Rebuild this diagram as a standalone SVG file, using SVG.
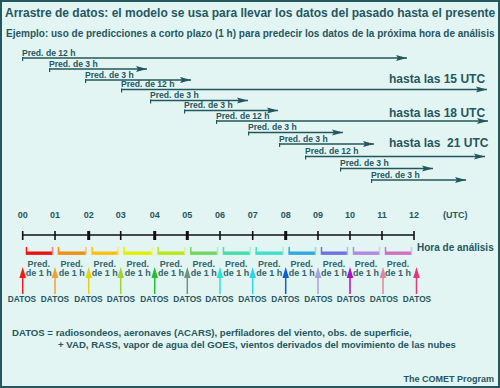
<svg xmlns="http://www.w3.org/2000/svg" width="500" height="388" viewBox="0 0 500 388">
<defs>
<style>
text{font-family:"Liberation Sans",Arial,sans-serif;font-weight:bold;fill:#26575f}
.t{font-size:12px}
.s{font-size:10px}
.lg{font-size:9.6px}
.p{font-size:8.6px}
.h{font-size:12px}
.hr{font-size:9px;text-anchor:middle}
.pm{font-size:9px;text-anchor:middle;fill:#34656b}
.d{font-size:8.3px;text-anchor:middle}
.pl{stroke:#22575d;stroke-width:1.5;fill:none;marker-end:url(#ah)}
.tk{stroke:#22575d;stroke-width:1.2}
.tl{stroke:#111;stroke-width:1.6}
.up{stroke-width:1.5}
</style>
<marker id="ah" markerUnits="userSpaceOnUse" markerWidth="12" markerHeight="8" viewBox="0 0 12 8" refX="11" refY="4" orient="auto">
<path d="M0,1 L11,4 L0,7 L2,4 Z" fill="#22575d"/>
</marker>
</defs>
<rect x="0" y="0" width="500" height="388" fill="#24575e"/>
<rect x="2" y="2" width="496" height="384" fill="#e2f5f3"/>
<text class="t" x="5" y="17">Arrastre de datos: el modelo se usa para llevar los datos del pasado hasta el presente</text>
<text class="s" x="6" y="37">Ejemplo: uso de predicciones a corto plazo (1 h) para predecir los datos de la próxima hora de análisis</text>

<g id="connectors">
<path class="pl" d="M22,58 H407"/><path class="tk" d="M22.6,57 V61"/>
<path class="pl" d="M49,69 H147"/><path class="tk" d="M49.6,68 V72"/>
<path class="pl" d="M85,80 H191"/><path class="tk" d="M85.6,79 V83"/>
<path class="pl" d="M121,89.5 H487"/><path class="tk" d="M121.6,88.5 V92.5"/>
<path class="pl" d="M150,100.5 H248"/><path class="tk" d="M150.6,99.5 V103.5"/>
<path class="pl" d="M184,110.5 H278"/><path class="tk" d="M184.6,109.5 V113.5"/>
<path class="pl" d="M216,121 H488"/><path class="tk" d="M216.6,120 V124"/>
<path class="pl" d="M248,132.5 H343"/><path class="tk" d="M248.6,131.5 V135.5"/>
<path class="pl" d="M279,144 H374"/><path class="tk" d="M279.6,143 V147"/>
<path class="pl" d="M305,156.5 H485"/><path class="tk" d="M305.6,155.5 V159.5"/>
<path class="pl" d="M340,168.5 H433"/><path class="tk" d="M340.6,167.5 V171.5"/>
<path class="pl" d="M371,180 H466"/><path class="tk" d="M371.6,179 V183"/>
</g>

<g id="pred-labels">
<text class="p" x="22" y="55.5">Pred. de 12 h</text>
<text class="p" x="49" y="66.5">Pred. de 3 h</text>
<text class="p" x="85" y="77.5">Pred. de 3 h</text>
<text class="p" x="121" y="87">Pred. de 12 h</text>
<text class="p" x="150" y="98">Pred. de 3 h</text>
<text class="p" x="184" y="108">Pred. de 3 h</text>
<text class="p" x="216" y="118.5">Pred. de 12 h</text>
<text class="p" x="248" y="130">Pred. de 3 h</text>
<text class="p" x="279" y="141.5">Pred. de 3 h</text>
<text class="p" x="305" y="154">Pred. de 12 h</text>
<text class="p" x="340" y="166">Pred. de 3 h</text>
<text class="p" x="371" y="177.5">Pred. de 3 h</text>
</g>
<g id="hasta">
<text class="h" x="389" y="83">hasta las 15 UTC</text>
<text class="h" x="389" y="117">hasta las 18 UTC</text>
<text class="h" x="389" y="147" xml:space="preserve">hasta las  21 UTC</text>
</g>

<g id="hours">
<text class="hr" x="22.7" y="218">00</text>
<text class="hr" x="55" y="218">01</text>
<text class="hr" x="88.7" y="218">02</text>
<text class="hr" x="120.7" y="218">03</text>
<text class="hr" x="154.7" y="218">04</text>
<text class="hr" x="187.3" y="218">05</text>
<text class="hr" x="220" y="218">06</text>
<text class="hr" x="252.7" y="218">07</text>
<text class="hr" x="285.7" y="218">08</text>
<text class="hr" x="318" y="218">09</text>
<text class="hr" x="350" y="218">10</text>
<text class="hr" x="382" y="218">11</text>
<text class="hr" x="414" y="218">12</text>
<text style="font-size:9px" x="443" y="218">(UTC)</text>
</g>

<g id="timeline">
<path class="tl" d="M22.7,235 H414"/>
<path class="tl" d="M22.7,231 V240 M55,231 V240 M120.7,231 V240 M220,231 V240 M252.7,231 V240 M318,231 V240 M350,231 V240 M382,231 V240 M414,231 V240"/>
<path d="M88.7,231 V240 M154.7,231 V240 M187.3,231 V240 M285.7,231 V240" stroke="#111" stroke-width="3"/>
<text style="font-size:10px" x="417" y="250.5">Hora de análisis</text>
</g>

<g id="brackets">
<g><path d="M26.5,247 V254 H52.5" stroke="#ee1111" fill="none" stroke-width="1.5"/><rect x="26" y="251.5" width="26.5" height="3" fill="#ee1111"/><path d="M52.5,247 V254" stroke="#f88080" stroke-width="1.5"/></g>
<g><path d="M58.5,247 V254 H86" stroke="#f09010" fill="none" stroke-width="1.5"/><rect x="58" y="251.5" width="28" height="3" fill="#f09010"/><path d="M86,247 V254" stroke="#f8c070" stroke-width="1.5"/></g>
<g><path d="M92.2,247 V254 H118.2" stroke="#ffc010" fill="none" stroke-width="1.5"/><rect x="91.7" y="251.5" width="26.5" height="3" fill="#ffc010"/><path d="M118.2,247 V254" stroke="#ffe080" stroke-width="1.5"/></g>
<g><path d="M124.2,247 V254 H152.2" stroke="#e0f000" fill="none" stroke-width="1.5"/><rect x="123.7" y="251.5" width="28.5" height="3" fill="#e0f000"/><path d="M152.2,247 V254" stroke="#f0f880" stroke-width="1.5"/></g>
<g><path d="M158.2,247 V254 H184.8" stroke="#b8e818" fill="none" stroke-width="1.5"/><rect x="157.7" y="251.5" width="27" height="3" fill="#b8e818"/><path d="M184.8,247 V254" stroke="#dcf490" stroke-width="1.5"/></g>
<g><path d="M190.8,247 V254 H217.5" stroke="#70d860" fill="none" stroke-width="1.5"/><rect x="190.3" y="251.5" width="27" height="3" fill="#70d860"/><path d="M217.5,247 V254" stroke="#b0ecb0" stroke-width="1.5"/></g>
<g><path d="M223.5,247 V254 H250.2" stroke="#40e0a8" fill="none" stroke-width="1.5"/><rect x="223" y="251.5" width="27" height="3" fill="#40e0a8"/><path d="M250.2,247 V254" stroke="#a0f0d4" stroke-width="1.5"/></g>
<g><path d="M256.2,247 V254 H283.2" stroke="#40e0c8" fill="none" stroke-width="1.5"/><rect x="255.7" y="251.5" width="27.5" height="3" fill="#40e0c8"/><path d="M283.2,247 V254" stroke="#a0f0e4" stroke-width="1.5"/></g>
<g><path d="M289.2,247 V254 H315.5" stroke="#30a8e0" fill="none" stroke-width="1.5"/><rect x="288.7" y="251.5" width="27" height="3" fill="#30a8e0"/><path d="M315.5,247 V254" stroke="#98d4f0" stroke-width="1.5"/></g>
<g><path d="M321.5,247 V254 H347.5" stroke="#7070e0" fill="none" stroke-width="1.5"/><rect x="321" y="251.5" width="26.5" height="3" fill="#7070e0"/><path d="M347.5,247 V254" stroke="#b8b8f0" stroke-width="1.5"/></g>
<g><path d="M353.5,247 V254 H379.5" stroke="#b088e0" fill="none" stroke-width="1.5"/><rect x="353" y="251.5" width="26.5" height="3" fill="#b088e0"/><path d="M379.5,247 V254" stroke="#d8c4f0" stroke-width="1.5"/></g>
<g><path d="M385.5,247 V254 H411.5" stroke="#d070c0" fill="none" stroke-width="1.5"/><rect x="385" y="251.5" width="26.5" height="3" fill="#d070c0"/><path d="M411.5,247 V254" stroke="#e8b8e0" stroke-width="1.5"/></g>
</g>

<g id="pred1h">
<text class="pm" x="38.8" y="266.5">Pred.</text><text class="pm" x="38.8" y="276">de 1 h</text>
<text class="pm" x="71.8" y="266.5">Pred.</text><text class="pm" x="71.8" y="276">de 1 h</text>
<text class="pm" x="104.7" y="266.5">Pred.</text><text class="pm" x="104.7" y="276">de 1 h</text>
<text class="pm" x="137.7" y="266.5">Pred.</text><text class="pm" x="137.7" y="276">de 1 h</text>
<text class="pm" x="171" y="266.5">Pred.</text><text class="pm" x="171" y="276">de 1 h</text>
<text class="pm" x="203.7" y="266.5">Pred.</text><text class="pm" x="203.7" y="276">de 1 h</text>
<text class="pm" x="236.3" y="266.5">Pred.</text><text class="pm" x="236.3" y="276">de 1 h</text>
<text class="pm" x="269.2" y="266.5">Pred.</text><text class="pm" x="269.2" y="276">de 1 h</text>
<text class="pm" x="301.8" y="266.5">Pred.</text><text class="pm" x="301.8" y="276">de 1 h</text>
<text class="pm" x="334" y="266.5">Pred.</text><text class="pm" x="334" y="276">de 1 h</text>
<text class="pm" x="366" y="266.5">Pred.</text><text class="pm" x="366" y="276">de 1 h</text>
<text class="pm" x="398" y="266.5">Pred.</text><text class="pm" x="398" y="276">de 1 h</text>
</g>

<g id="datos-arrows">
<g><path class="up" d="M22.7,294 V277" stroke="#f01818"/><path d="M22.7,267 L26,278 L19.4,278 Z" fill="#f01818"/></g>
<g><path class="up" d="M55,294 V277" stroke="#f0a030"/><path d="M55,267 L58.3,278 L51.7,278 Z" fill="#f0a030"/></g>
<g><path class="up" d="M88.7,294 V277" stroke="#e8d010"/><path d="M88.7,267 L92,278 L85.4,278 Z" fill="#e8d010"/></g>
<g><path class="up" d="M120.7,294 V277" stroke="#a8d030"/><path d="M120.7,267 L124,278 L117.4,278 Z" fill="#a8d030"/></g>
<g><path class="up" d="M154.7,294 V277" stroke="#20c030"/><path d="M154.7,267 L158,278 L151.4,278 Z" fill="#20c030"/></g>
<g><path class="up" d="M187.3,294 V277" stroke="#709480"/><path d="M187.3,267 L190.6,278 L184,278 Z" fill="#709480"/></g>
<g><path class="up" d="M220,294 V277" stroke="#30e0d0"/><path d="M220,267 L223.3,278 L216.7,278 Z" fill="#30e0d0"/></g>
<g><path class="up" d="M252.7,294 V277" stroke="#30d4e8"/><path d="M252.7,267 L256,278 L249.4,278 Z" fill="#30d4e8"/></g>
<g><path class="up" d="M285.7,294 V277" stroke="#1060d0"/><path d="M285.7,267 L289,278 L282.4,278 Z" fill="#1060d0"/></g>
<g><path class="up" d="M318,294 V277" stroke="#a8a0d8"/><path d="M318,267 L321.3,278 L314.7,278 Z" fill="#a8a0d8"/></g>
<g><path class="up" d="M350,294 V277" stroke="#b010c0"/><path d="M350,267 L353.3,278 L346.7,278 Z" fill="#b010c0"/></g>
<g><path class="up" d="M383,294 V277" stroke="#e08898"/><path d="M383,267 L386.3,278 L379.7,278 Z" fill="#e08898"/></g>
<g><path class="up" d="M416.5,294 V277" stroke="#e03878"/><path d="M416.5,267 L419.8,278 L413.2,278 Z" fill="#e03878"/></g>
</g>

<g id="datos-labels">
<text class="d" x="22" y="302">DATOS</text>
<text class="d" x="55" y="302">DATOS</text>
<text class="d" x="88.5" y="302">DATOS</text>
<text class="d" x="121" y="302">DATOS</text>
<text class="d" x="154.5" y="302">DATOS</text>
<text class="d" x="187.5" y="302">DATOS</text>
<text class="d" x="219.5" y="302">DATOS</text>
<text class="d" x="252.5" y="302">DATOS</text>
<text class="d" x="285.5" y="302">DATOS</text>
<text class="d" x="318.5" y="302">DATOS</text>
<text class="d" x="351" y="302">DATOS</text>
<text class="d" x="384" y="302">DATOS</text>
<text class="d" x="417" y="302">DATOS</text>
</g>

<g id="legend">
<text class="lg" x="12" y="336">DATOS = radiosondeos, aeronaves (ACARS), perfiladores del viento, obs. de superficie,</text>
<text class="lg" x="58" y="347.5">+ VAD, RASS, vapor de agua del GOES, vientos derivados del movimiento de las nubes</text>
<text style="font-size:9px;text-anchor:end" x="494" y="381.5">The COMET Program</text>
</g>
</svg>
